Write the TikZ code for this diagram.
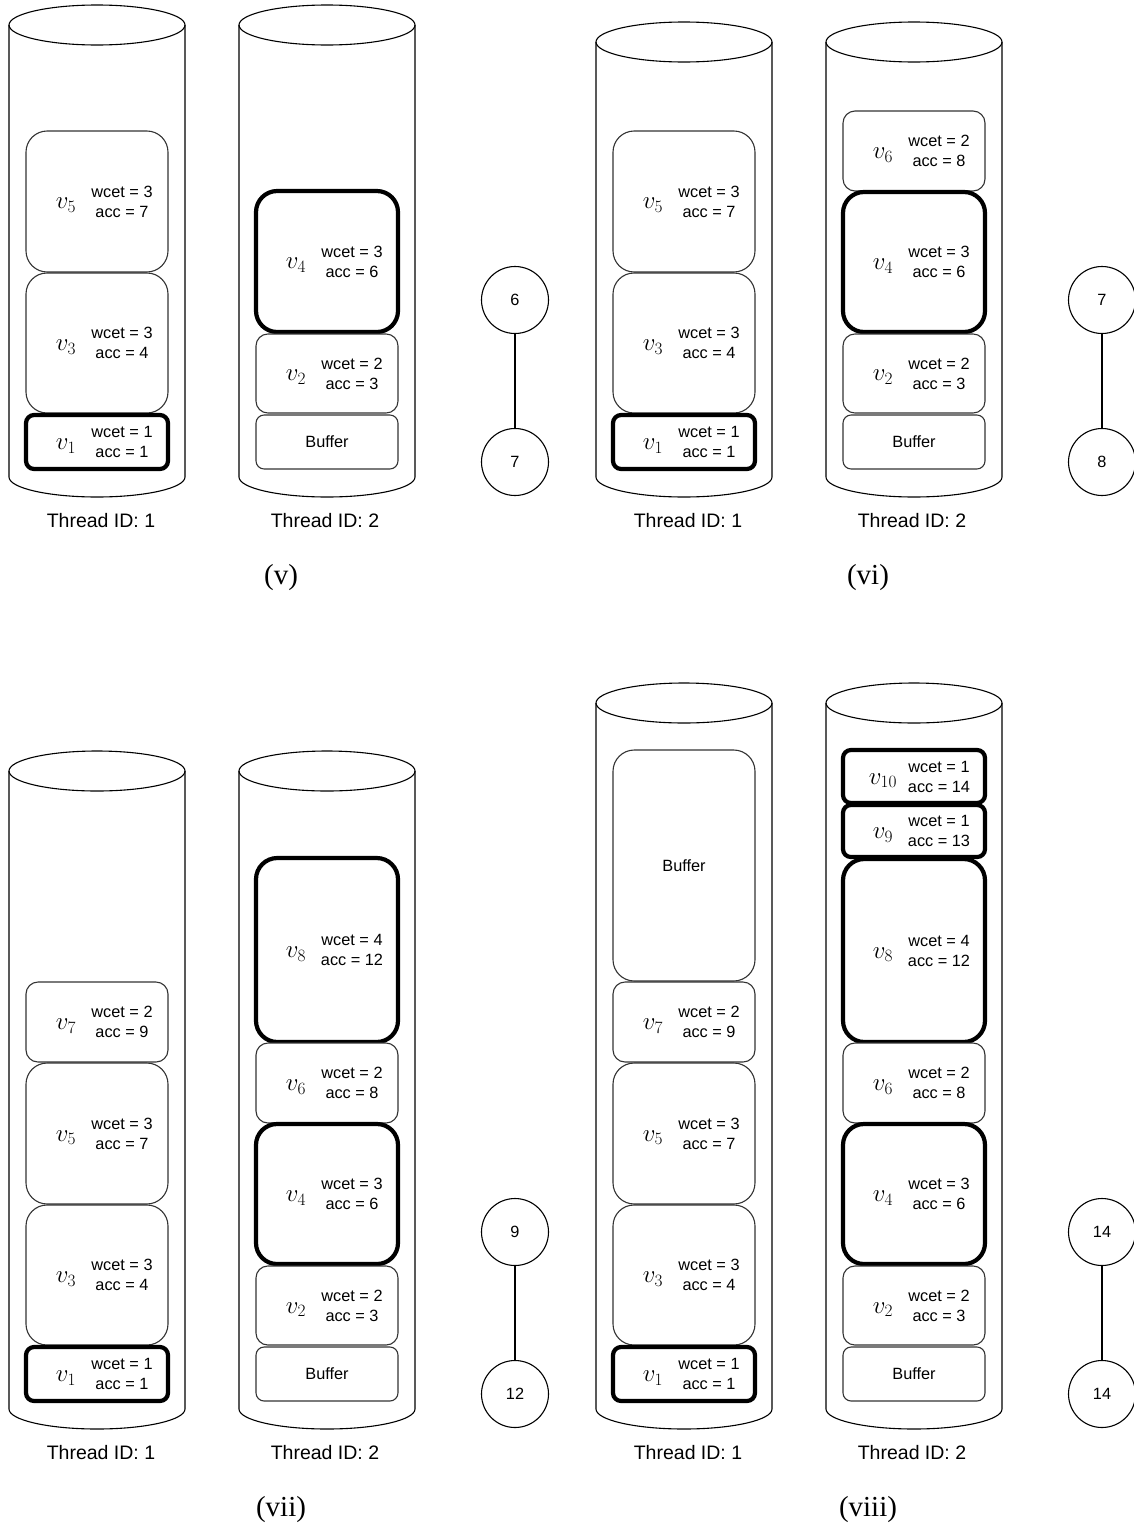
\documentclass[tikz,border=0pt]{standalone}
\usepackage[no-math]{fontspec}
\newfontfamily\arialf{Liberation Sans}
\newfontfamily\timesf{Liberation Serif}
\usetikzlibrary{calc}
\DeclareMathSizes{24.88}{24.88}{17.28}{14.4}

\tikzset{
  cyl/.style={draw=black, line width=1.1pt},
  thinbox/.style={draw=black!80, line width=1.1pt, minimum width=142pt, inner sep=0pt, fill=white},
  thickbox/.style={draw=black, line width=4.2pt, minimum width=142pt, inner sep=0pt, fill=white},
  vlab/.style={inner sep=0pt, font=\fontsize{24.88}{25}\selectfont},
  info/.style={inner sep=0pt, align=center, font=\arialf\fontsize{16.3}{20}\selectfont},
  tid/.style={inner sep=0pt, font=\arialf\fontsize{19.5}{22}\selectfont, anchor=base},
  panelcap/.style={inner sep=0pt, font=\timesf\fontsize{29}{31}\selectfont},
  accnode/.style={draw, circle, minimum size=67pt, inner sep=0pt, line width=1.1pt, fill=white, font=\arialf\fontsize{16.3}{20}\selectfont},
  link/.style={line width=1.1pt},
}

% cylinder: #1 left x, #2 top ellipse centre y, #3 bottom arc start y
\newcommand{\thrcyl}[3]{%
  \pgfmathsetmacro{\cxr}{#1+176}%
  \pgfmathsetmacro{\cxc}{#1+88}%
  \pgfmathsetmacro{\cka}{\cxc-48.6}%
  \pgfmathsetmacro{\ckb}{\cxc+48.6}%
  \pgfmathsetmacro{\cyb}{#3+20}%
  \pgfmathsetmacro{\cyk}{#3+11.05}%
  \draw[cyl] (#1,#2) -- (#1,#3) .. controls (#1,\cyk) and (\cka,\cyb) .. (\cxc,\cyb)
     .. controls (\ckb,\cyb) and (\cxr,\cyk) .. (\cxr,#3) -- (\cxr,#2);
  \draw[cyl] (\cxc,#2) ellipse [x radius=88pt, y radius=20pt];
}

% task box: #1 name, #2 style, #3 cylinder left x, #4 top y, #5 bottom y, #6 index, #7 wcet, #8 acc
\newcommand{\taskbox}[8]{%
  \pgfmathsetmacro{\bh}{#5-#4}%
  \pgfmathsetmacro{\by}{(#4+#5)/2}%
  \pgfmathsetmacro{\bx}{#3+88}%
  \pgfmathsetmacro{\br}{0.15*min(\bh,142)}%
  \node[#2, minimum height=\bh pt, rounded corners=\br pt] (#1) at (\bx,\by) {};%
  \node[vlab] (#1v) at ([xshift=-31pt,yshift=-4pt]#1.center) {$v_{#6}$};%
  \node[info] (#1t) at ([xshift=25pt]#1.center) {wcet = #7\\acc = #8};%
}

% buffer box: #1 name, #2 cylinder left x, #3 top y, #4 bottom y
\newcommand{\bufbox}[4]{%
  \pgfmathsetmacro{\bh}{#4-#3}%
  \pgfmathsetmacro{\by}{(#3+#4)/2}%
  \pgfmathsetmacro{\bx}{#2+88}%
  \pgfmathsetmacro{\br}{0.15*min(\bh,142)}%
  \node[thinbox, minimum height=\bh pt, rounded corners=\br pt, font=\arialf\fontsize{16.3}{20}\selectfont] (#1) at (\bx,\by) {Buffer};%
}

\begin{document}
\begin{tikzpicture}[x=1pt,y=-1pt]
\useasboundingbox (0,0) rectangle (1134,1526);
\clip (0,0) rectangle (1134,1526);

% ================= (v) =================
\thrcyl{9}{25}{477}
\thrcyl{239}{25}{477}
\taskbox{pva}{thinbox}{9}{131}{272}{5}{3}{7}
\taskbox{pvb}{thinbox}{9}{273}{413}{3}{3}{4}
\taskbox{pvc}{thickbox}{9}{415}{469}{1}{1}{1}
\taskbox{pvd}{thickbox}{239}{191}{332}{4}{3}{6}
\taskbox{pve}{thinbox}{239}{334}{413}{2}{2}{3}
\bufbox{pvf}{239}{415}{469}
\node[accnode] (pvx) at (515,300) {6};
\node[accnode] (pvy) at (515,462) {7};
\draw[link] (pvx) -- (pvy);
\node[tid] (pvl1) at (101,527) {Thread ID: 1};
\node[tid] (pvl2) at (325,527) {Thread ID: 2};
\node[panelcap] (pvcap) at (281,578) {(v)};

% ================= (vi) =================
\thrcyl{596}{42}{477}
\thrcyl{826}{42}{477}
\taskbox{pwa}{thinbox}{596}{131}{272}{5}{3}{7}
\taskbox{pwb}{thinbox}{596}{273}{413}{3}{3}{4}
\taskbox{pwc}{thickbox}{596}{415}{469}{1}{1}{1}
\taskbox{pwd}{thinbox}{826}{111}{191}{6}{2}{8}
\taskbox{pwe}{thickbox}{826}{192}{332}{4}{3}{6}
\taskbox{pwf}{thinbox}{826}{334}{413}{2}{2}{3}
\bufbox{pwg}{826}{415}{469}
\node[accnode] (pwx) at (1102,300) {7};
\node[accnode] (pwy) at (1102,462) {8};
\draw[link] (pwx) -- (pwy);
\node[tid] (pwl1) at (688,527) {Thread ID: 1};
\node[tid] (pwl2) at (912,527) {Thread ID: 2};
\node[panelcap] (pwcap) at (868,578) {(vi)};

% ================= (vii) =================
\thrcyl{9}{771}{1409}
\thrcyl{239}{771}{1409}
\taskbox{pxa}{thinbox}{9}{982}{1062}{7}{2}{9}
\taskbox{pxb}{thinbox}{9}{1063}{1204}{5}{3}{7}
\taskbox{pxc}{thinbox}{9}{1205}{1345}{3}{3}{4}
\taskbox{pxd}{thickbox}{9}{1347}{1401}{1}{1}{1}
\taskbox{pxe}{thickbox}{239}{858}{1042}{8}{4}{12}
\taskbox{pxf}{thinbox}{239}{1043}{1123}{6}{2}{8}
\taskbox{pxg}{thickbox}{239}{1124}{1264}{4}{3}{6}
\taskbox{pxh}{thinbox}{239}{1266}{1345}{2}{2}{3}
\bufbox{pxi}{239}{1347}{1401}
\node[accnode] (pxx) at (515,1232) {9};
\node[accnode] (pxy) at (515,1394) {12};
\draw[link] (pxx) -- (pxy);
\node[tid] (pxl1) at (101,1459) {Thread ID: 1};
\node[tid] (pxl2) at (325,1459) {Thread ID: 2};
\node[panelcap] (pxcap) at (281,1510) {(vii)};

% ================= (viii) =================
\thrcyl{596}{703}{1409}
\thrcyl{826}{703}{1409}
\bufbox{pya}{596}{750}{981}
\taskbox{pyb}{thinbox}{596}{982}{1062}{7}{2}{9}
\taskbox{pyc}{thinbox}{596}{1063}{1204}{5}{3}{7}
\taskbox{pyd}{thinbox}{596}{1205}{1345}{3}{3}{4}
\taskbox{pye}{thickbox}{596}{1347}{1401}{1}{1}{1}
\taskbox{pyf}{thickbox}{826}{750}{803}{10}{1}{14}
\taskbox{pyg}{thickbox}{826}{805}{857}{9}{1}{13}
\taskbox{pyh}{thickbox}{826}{859}{1042}{8}{4}{12}
\taskbox{pyi}{thinbox}{826}{1043}{1123}{6}{2}{8}
\taskbox{pyj}{thickbox}{826}{1124}{1264}{4}{3}{6}
\taskbox{pyk}{thinbox}{826}{1266}{1345}{2}{2}{3}
\bufbox{pyl}{826}{1347}{1401}
\node[accnode] (pyx) at (1102,1232) {14};
\node[accnode] (pyy) at (1102,1394) {14};
\draw[link] (pyx) -- (pyy);
\node[tid] (pyl1) at (688,1459) {Thread ID: 1};
\node[tid] (pyl2) at (912,1459) {Thread ID: 2};
\node[panelcap] (pycap) at (868,1510) {(viii)};
\end{tikzpicture}
\end{document}
